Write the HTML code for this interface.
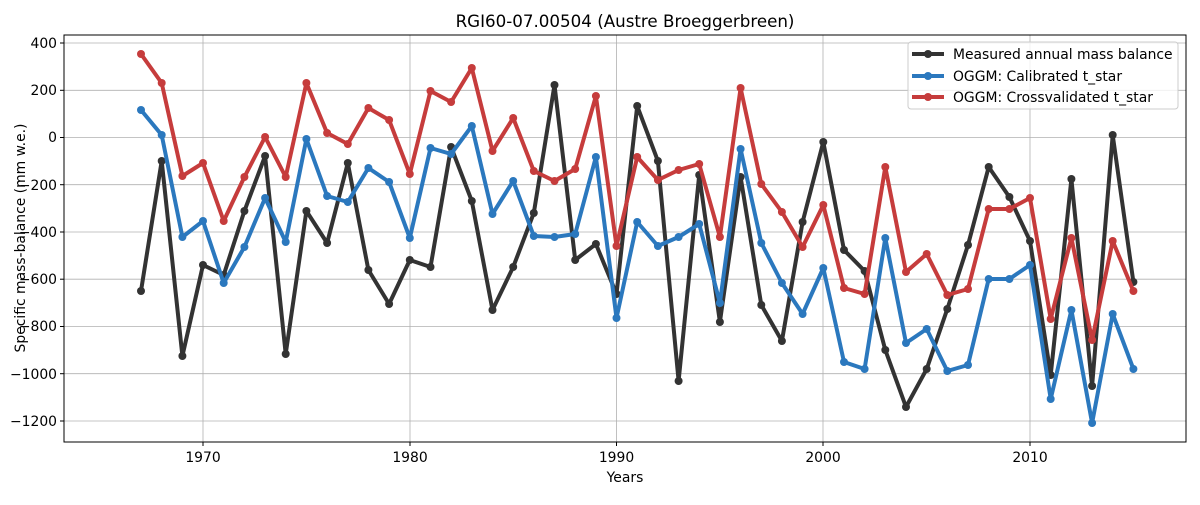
<!DOCTYPE html>
<html><head><meta charset="utf-8"><style>
html,body{margin:0;padding:0;background:#fff;}
svg text{font-family:"DejaVu Sans","Liberation Sans",sans-serif;}
</style></head><body>
<svg width="1200" height="500" xmlns="http://www.w3.org/2000/svg">
<defs>
<marker id="mk" markerWidth="10" markerHeight="10" refX="5" refY="5" markerUnits="userSpaceOnUse"><circle cx="5" cy="5" r="4" fill="#333"/></marker>
<marker id="mb" markerWidth="10" markerHeight="10" refX="5" refY="5" markerUnits="userSpaceOnUse"><circle cx="5" cy="5" r="4" fill="#2b78be"/></marker>
<marker id="mr" markerWidth="10" markerHeight="10" refX="5" refY="5" markerUnits="userSpaceOnUse"><circle cx="5" cy="5" r="4" fill="#c63c3c"/></marker>
</defs>
<rect width="1200" height="500" fill="#fff"/>
<g stroke="#b0b0b0" stroke-width="0.8">
<line x1="203" y1="35" x2="203" y2="442"/><line x1="410" y1="35" x2="410" y2="442"/><line x1="616.5" y1="35" x2="616.5" y2="442"/><line x1="823" y1="35" x2="823" y2="442"/><line x1="1030" y1="35" x2="1030" y2="442"/>
<line x1="64" y1="43" x2="1186" y2="43"/><line x1="64" y1="90.3" x2="1186" y2="90.3"/><line x1="64" y1="137.5" x2="1186" y2="137.5"/><line x1="64" y1="184.7" x2="1186" y2="184.7"/><line x1="64" y1="232" x2="1186" y2="232"/><line x1="64" y1="279.2" x2="1186" y2="279.2"/><line x1="64" y1="326.5" x2="1186" y2="326.5"/><line x1="64" y1="373.7" x2="1186" y2="373.7"/><line x1="64" y1="421" x2="1186" y2="421"/>
</g>
<g fill="none" stroke-width="4" stroke-linejoin="round">
<polyline stroke="#333" marker-start="url(#mk)" marker-mid="url(#mk)" marker-end="url(#mk)" points="141,291 161.7,161 182.4,356 203,265 223.7,275 244.4,211 265.1,156 285.7,354 306.4,211 327.1,243 347.8,163 368.4,270 389.1,304 409.8,260 430.5,267 451.1,147 471.8,201 492.5,310 513.2,267 533.8,213 554.5,85 575.2,260 595.9,244 616.5,294 637.2,106 657.9,161 678.6,381 699.2,175 719.9,322 740.6,177 761.3,305 781.9,341 802.6,222 823.3,142 844,250 864.6,271 885.3,350 906,407 926.7,369 947.3,309 968,245 988.7,167 1009.4,197 1030,241 1050.7,375 1071.4,179 1092.1,386 1112.7,135 1133.4,282"/>
<polyline stroke="#2b78be" marker-start="url(#mb)" marker-mid="url(#mb)" marker-end="url(#mb)" points="141,110 161.7,135 182.4,237 203,221 223.7,283 244.4,247 265.1,198 285.7,242 306.4,139 327.1,196 347.8,202 368.4,168 389.1,182 409.8,238 430.5,148 451.1,154 471.8,126 492.5,214 513.2,181 533.8,236 554.5,237 575.2,234 595.9,157 616.5,318 637.2,222 657.9,246 678.6,237 699.2,224 719.9,303 740.6,149 761.3,243 781.9,283 802.6,314 823.3,268 844,362 864.6,369 885.3,238 906,343 926.7,329 947.3,371 968,365 988.7,279 1009.4,279 1030,265 1050.7,399 1071.4,310 1092.1,423 1112.7,314 1133.4,369"/>
<polyline stroke="#c63c3c" marker-start="url(#mr)" marker-mid="url(#mr)" marker-end="url(#mr)" points="141,54 161.7,83 182.4,176 203,163 223.7,221 244.4,177 265.1,137 285.7,177 306.4,83 327.1,133 347.8,144 368.4,108 389.1,120 409.8,174 430.5,91 451.1,102 471.8,68 492.5,151 513.2,118 533.8,171 554.5,181 575.2,169 595.9,96 616.5,246 637.2,157 657.9,180 678.6,170 699.2,164 719.9,237 740.6,88 761.3,184 781.9,212 802.6,247 823.3,205 844,288 864.6,294 885.3,167 906,272 926.7,254 947.3,295 968,289 988.7,209 1009.4,209 1030,198 1050.7,319 1071.4,238 1092.1,340 1112.7,241 1133.4,291"/>
</g>
<rect x="64" y="35" width="1122" height="407" fill="none" stroke="#000" stroke-width="1"/>
<g stroke="#000" stroke-width="1">
<line x1="203" y1="442" x2="203" y2="446"/><line x1="410" y1="442" x2="410" y2="446"/><line x1="616.5" y1="442" x2="616.5" y2="446"/><line x1="823" y1="442" x2="823" y2="446"/><line x1="1030" y1="442" x2="1030" y2="446"/>
<line x1="60" y1="43" x2="64" y2="43"/><line x1="60" y1="90.3" x2="64" y2="90.3"/><line x1="60" y1="137.5" x2="64" y2="137.5"/><line x1="60" y1="184.7" x2="64" y2="184.7"/><line x1="60" y1="232" x2="64" y2="232"/><line x1="60" y1="279.2" x2="64" y2="279.2"/><line x1="60" y1="326.5" x2="64" y2="326.5"/><line x1="60" y1="373.7" x2="64" y2="373.7"/><line x1="60" y1="421" x2="64" y2="421"/>
</g>
<g font-size="13.9" fill="#000" text-anchor="middle">
<text x="203" y="462">1970</text><text x="410" y="462">1980</text><text x="616.5" y="462">1990</text><text x="823" y="462">2000</text><text x="1030" y="462">2010</text>
</g>
<g font-size="13.9" fill="#000" text-anchor="end">
<text x="57" y="48">400</text><text x="57" y="95">200</text><text x="57" y="142">0</text><text x="57" y="190">−200</text><text x="57" y="237">−400</text><text x="57" y="284">−600</text><text x="57" y="331">−800</text><text x="57" y="379">−1000</text><text x="57" y="426">−1200</text>
</g>
<text x="625" y="27" font-size="16.7" text-anchor="middle">RGI60-07.00504 (Austre Broeggerbreen)</text>
<text x="625" y="482" font-size="13.9" text-anchor="middle">Years</text>
<text transform="translate(25,238) rotate(-90)" font-size="13.9" text-anchor="middle">Specific mass-balance (mm w.e.)</text>
<rect x="908" y="42" width="270" height="67" rx="3" fill="#fff" fill-opacity="0.8" stroke="#ccc"/>
<g stroke-width="4">
<line x1="912" y1="54" x2="944" y2="54" stroke="#333"/><circle cx="928" cy="54" r="4" fill="#333"/>
<line x1="912" y1="76" x2="944" y2="76" stroke="#2b78be"/><circle cx="928" cy="76" r="4" fill="#2b78be"/>
<line x1="912" y1="97" x2="944" y2="97" stroke="#c63c3c"/><circle cx="928" cy="97" r="4" fill="#c63c3c"/>
</g>
<g font-size="13.9" fill="#000">
<text x="953" y="59">Measured annual mass balance</text>
<text x="953" y="81">OGGM: Calibrated t_star</text>
<text x="953" y="102">OGGM: Crossvalidated t_star</text>
</g>
</svg>
</body></html>
